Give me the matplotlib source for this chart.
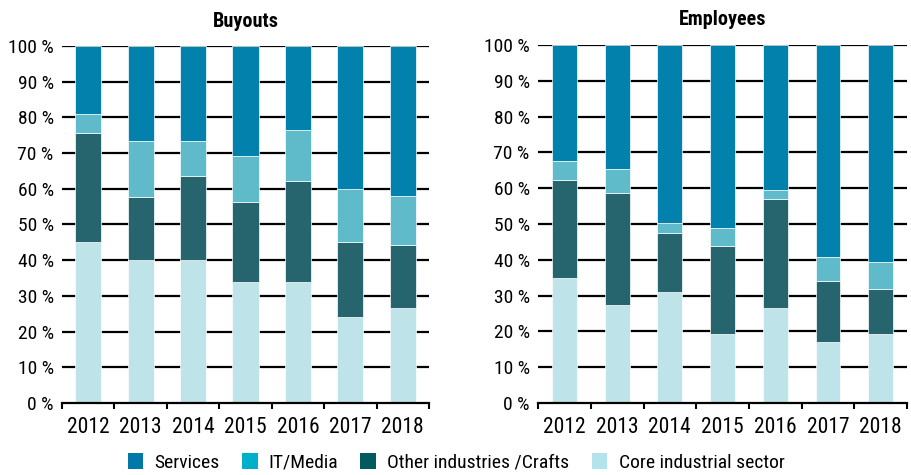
import matplotlib
matplotlib.use("Agg")
import matplotlib.pyplot as plt
from matplotlib.patches import Patch
import numpy as np

plt.rcParams['font.family'] = ['Roboto Condensed', 'IBM Plex Sans Condensed', 'DejaVu Sans']

# data (shares in %)
years = ["2012", "2013", "2014", "2015", "2016", "2017", "2018"]
series = ["Services", "IT/Media", "Other industries /Crafts", "Core industrial sector"]

buy_core = [45.0, 40.0, 40.0, 33.9, 33.9, 24.2, 26.5]
buy_other = [30.7, 17.8, 23.6, 22.4, 28.3, 20.9, 17.8]
buy_it = [5.3, 15.7, 9.9, 12.9, 14.2, 14.9, 13.6]
buy_serv = [19.0, 26.5, 26.5, 30.8, 23.6, 40.0, 42.1]

emp_core = [34.8, 27.3, 31.1, 19.2, 26.6, 16.9, 19.2]
emp_other = [27.4, 31.3, 16.4, 24.6, 30.5, 17.1, 12.6]
emp_it = [5.4, 6.8, 2.9, 5.2, 2.3, 6.9, 7.5]
emp_serv = [32.4, 34.6, 49.6, 51.0, 40.6, 59.1, 60.7]

# colours
bar_colors = {"Core industrial sector": "#bee3e9", "Other industries /Crafts": "#26646e",
              "IT/Media": "#5fbaca", "Services": "#0381ad"}
legend_colors = {"Services": "#0178a8", "IT/Media": "#00b0cb",
                 "Other industries /Crafts": "#005a5e", "Core industrial sector": "#b3e3ec"}

fig = plt.figure(figsize=(9.12, 4.75), dpi=100)
ax1 = fig.add_axes([0.068, 0.1516, 0.4024, 0.7516])
ax2 = fig.add_axes([0.590, 0.1516, 0.4046, 0.7538])


def draw(ax, core, other, it, serv, title, width):
    x = np.arange(len(years))
    bottom = np.zeros(len(years))
    for name, vals in [("Core industrial sector", core), ("Other industries /Crafts", other),
                       ("IT/Media", it), ("Services", serv)]:
        ax.bar(x, vals, width, bottom=bottom, color=bar_colors[name],
               edgecolor="white", linewidth=0.5, zorder=2)
        bottom += np.array(vals)
    ax.set_xlim(-0.5, len(years) - 0.5)
    ax.set_ylim(0, 100)
    ax.set_yticks(range(0, 101, 10))
    ax.set_yticklabels([f"{v} %" for v in range(0, 101, 10)], fontsize=14)
    ax.tick_params(axis="y", length=0, pad=6)
    ax.set_xticks(x)
    ax.set_xticklabels(years, fontsize=15.5)
    ax.tick_params(axis="x", which="major", length=0, pad=10)
    ax.set_xticks(np.arange(-0.5, len(years)), minor=True)
    ax.tick_params(axis="x", which="minor", length=4, width=1.5, direction="out", color="black")
    for y in range(10, 101, 10):
        ax.axhline(y, color="black", linewidth=1.6, zorder=1)
    for s in ["top", "left", "right"]:
        ax.spines[s].set_visible(False)
    ax.spines["bottom"].set_linewidth(1.6)
    ax.spines["bottom"].set_zorder(3)
    ax.set_title(title, fontsize=14.5, fontweight="bold", pad=14)


draw(ax1, buy_core, buy_other, buy_it, buy_serv, "Buyouts", 0.5)
draw(ax2, emp_core, emp_other, emp_it, emp_serv, "Employees", 0.47)

handles = [Patch(facecolor=legend_colors[s], edgecolor="none") for s in series]
fig.legend(handles, series, loc="center", bbox_to_anchor=(0.5, 0.026), ncol=4,
           frameon=False, fontsize=14, handlelength=0.82, handleheight=0.82,
           handletextpad=0.57, columnspacing=1.13, borderpad=0)

fig.savefig("out.png", dpi=100)
